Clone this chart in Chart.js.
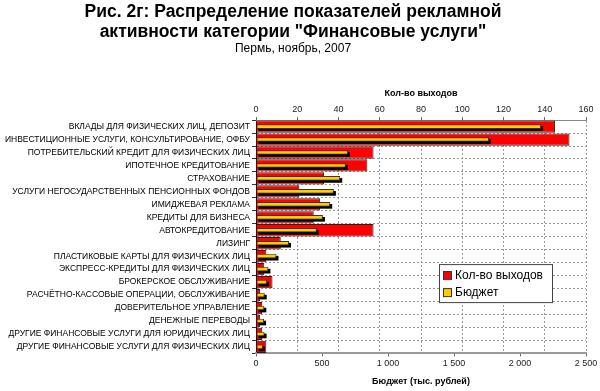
<!DOCTYPE html>
<html>
<head>
<meta charset="utf-8">
<script src="https://cdn.jsdelivr.net/npm/chart.js@4"></script>
<style>
  body { margin: 0; background: #fff; }
</style>
</head>
<body>
<canvas id="ad-chart" width="600" height="391"></canvas>
<script>
var categories = [
    "ВКЛАДЫ ДЛЯ ФИЗИЧЕСКИХ ЛИЦ, ДЕПОЗИТ",
    "ИНВЕСТИЦИОННЫЕ УСЛУГИ, КОНСУЛЬТИРОВАНИЕ, ОФБУ",
    "ПОТРЕБИТЕЛЬСКИЙ КРЕДИТ ДЛЯ ФИЗИЧЕСКИХ ЛИЦ",
    "ИПОТЕЧНОЕ КРЕДИТОВАНИЕ",
    "СТРАХОВАНИЕ",
    "УСЛУГИ НЕГОСУДАРСТВЕННЫХ ПЕНСИОННЫХ ФОНДОВ",
    "ИМИДЖЕВАЯ РЕКЛАМА",
    "КРЕДИТЫ ДЛЯ БИЗНЕСА",
    "АВТОКРЕДИТОВАНИЕ",
    "ЛИЗИНГ",
    "ПЛАСТИКОВЫЕ КАРТЫ ДЛЯ ФИЗИЧЕСКИХ ЛИЦ",
    "ЭКСПРЕСС-КРЕДИТЫ ДЛЯ ФИЗИЧЕСКИХ ЛИЦ",
    "БРОКЕРСКОЕ ОБСЛУЖИВАНИЕ",
    "РАСЧЁТНО-КАССОВЫЕ ОПЕРАЦИИ, ОБСЛУЖИВАНИЕ",
    "ДОВЕРИТЕЛЬНОЕ УПРАВЛЕНИЕ",
    "ДЕНЕЖНЫЕ ПЕРЕВОДЫ",
    "ДРУГИЕ ФИНАНСОВЫЕ УСЛУГИ ДЛЯ ЮРИДИЧЕСКИХ ЛИЦ",
    "ДРУГИЕ ФИНАНСОВЫЕ УСЛУГИ ДЛЯ ФИЗИЧЕСКИХ ЛИЦ",
];

// кол-во выходов (верхняя ось)
var issues = [145, 152, 57, 54, 33, 21, 31, 28, 57, 12, 5, 4, 8, 2, 3, 2, 3, 5];
// бюджет, тыс. рублей (нижняя ось)
var budget = [2160, 1765, 697, 681, 638, 590, 562, 507, 461, 250, 155, 94, 84, 66, 63, 61, 65, 53];

var seriesNames = ["Кол-во выходов", "Бюджет"];
var titleLines = [
    "Рис. 2г: Распределение показателей рекламной",
    'активности категории "Финансовые услуги"',
];
var subtitleText = "Пермь, ноябрь, 2007";
var topAxisTitle = "Кол-во выходов";
var bottomAxisTitle = "Бюджет (тыс. рублей)";

var font = 'Arial, "Liberation Sans", sans-serif';
var colors = ["#ff0000", "#ffcc00"];

// black drop shadow under the yellow bars
var barShadow = {
    id: "barShadow",
    beforeDatasetDraw: function (chart, args) {
        if (args.index !== 1) return;
        var ctx = chart.ctx;
        ctx.save();
        ctx.fillStyle = "#000";
        args.meta.data.forEach(function (bar) {
            var p = bar.getProps(["x", "y", "base", "height"], true);
            ctx.fillRect(p.base + 2, p.y - p.height / 2 + 2, p.x - p.base, p.height);
        });
        ctx.restore();
    },
};

// legend box inside the plot area
var legendBox = {
    id: "legendBox",
    afterDraw: function (chart) {
        var ctx = chart.ctx;
        var area = chart.chartArea;
        var x = area.left + 183,
            y = area.top + 144,
            w = 113,
            h = 38;
        ctx.save();
        ctx.fillStyle = "#fff";
        ctx.fillRect(x, y, w, h);
        ctx.strokeStyle = "#444";
        ctx.lineWidth = 1;
        ctx.strokeRect(x + 0.5, y + 0.5, w, h);
        ctx.font = "12px " + font;
        ctx.textBaseline = "middle";
        seriesNames.forEach(function (name, i) {
            var cy = y + 11 + i * 17;
            ctx.fillStyle = colors[i];
            ctx.fillRect(x + 4, cy - 4, 8, 8);
            ctx.strokeStyle = "#333";
            ctx.strokeRect(x + 4.5, cy - 3.5, 8, 8);
            ctx.fillStyle = "#000";
            ctx.fillText(name, x + 16, cy + 1);
        });
        ctx.restore();
    },
};

function spaced(v) {
    return String(v).replace(/\B(?=(\d{3})+(?!\d))/g, " ");
}

var context = document.getElementById("ad-chart").getContext("2d");

var myChart = new Chart(context, {
    type: "bar",
    data: {
        labels: categories,
        datasets: [
            {
                label: seriesNames[0],
                data: issues,
                xAxisID: "x",
                backgroundColor: colors[0],
                borderColor: "#222",
                borderWidth: 1,
                grouped: false,
                categoryPercentage: 1,
                barPercentage: 0.95,
                order: 2,
            },
            {
                label: seriesNames[1],
                data: budget,
                xAxisID: "x2",
                backgroundColor: colors[1],
                borderColor: "#333",
                borderWidth: 1,
                borderSkipped: false,
                grouped: false,
                categoryPercentage: 1,
                barPercentage: 0.36,
                order: 1,
            },
        ],
    },
    options: {
        responsive: false,
        animation: false,
        indexAxis: "y",
        layout: { padding: { left: 0, right: 14, top: 0, bottom: 2 } },
        plugins: {
            legend: { display: false },
            tooltip: { enabled: false },
            title: {
                display: true,
                text: titleLines,
                color: "#000",
                font: { family: font, size: 17.5, weight: "bold", lineHeight: 1.1 },
                padding: { top: 3, bottom: 0 },
            },
            subtitle: {
                display: true,
                text: subtitleText,
                color: "#000",
                font: { family: font, size: 12, lineHeight: 1.0 },
                padding: { top: 1, bottom: 0 },
            },
        },
        scales: {
            y: {
                type: "category",
                afterFit: function (scale) {
                    scale.width = 256;
                },
                ticks: {
                    color: "#000",
                    autoSkip: false,
                    padding: 2,
                    font: { family: font, size: 8.5 },
                },
                grid: {
                    color: "#999",
                    lineWidth: 1,
                    tickLength: 4,
                    tickColor: "#333",
                    offset: true,
                },
                border: { color: "#000", width: 1, dash: [2, 2] },
            },
            x: {
                position: "top",
                min: 0,
                max: 160,
                ticks: {
                    stepSize: 20,
                    color: "#222",
                    padding: 2,
                    font: { family: font, size: 9 },
                },
                grid: {
                    color: "#999",
                    tickLength: 3,
                    tickColor: "#666",
                },
                border: { color: "#888", width: 1, dash: [2, 2] },
                title: {
                    display: true,
                    text: topAxisTitle,
                    color: "#000",
                    font: { family: font, size: 9, weight: "bold" },
                    padding: { top: 34, bottom: 3 },
                },
            },
            x2: {
                position: "bottom",
                min: 0,
                max: 2500,
                ticks: {
                    stepSize: 500,
                    color: "#222",
                    padding: 2,
                    font: { family: font, size: 9 },
                    callback: function (v) {
                        return spaced(v);
                    },
                },
                grid: {
                    drawOnChartArea: false,
                    tickLength: 3,
                    tickColor: "#666",
                },
                border: { color: "#999", width: 2 },
                title: {
                    display: true,
                    text: bottomAxisTitle,
                    color: "#000",
                    font: { family: font, size: 9, weight: "bold" },
                    padding: { top: 5, bottom: 2 },
                },
            },
        },
    },
    plugins: [barShadow, legendBox],
});
</script>
</body>
</html>
